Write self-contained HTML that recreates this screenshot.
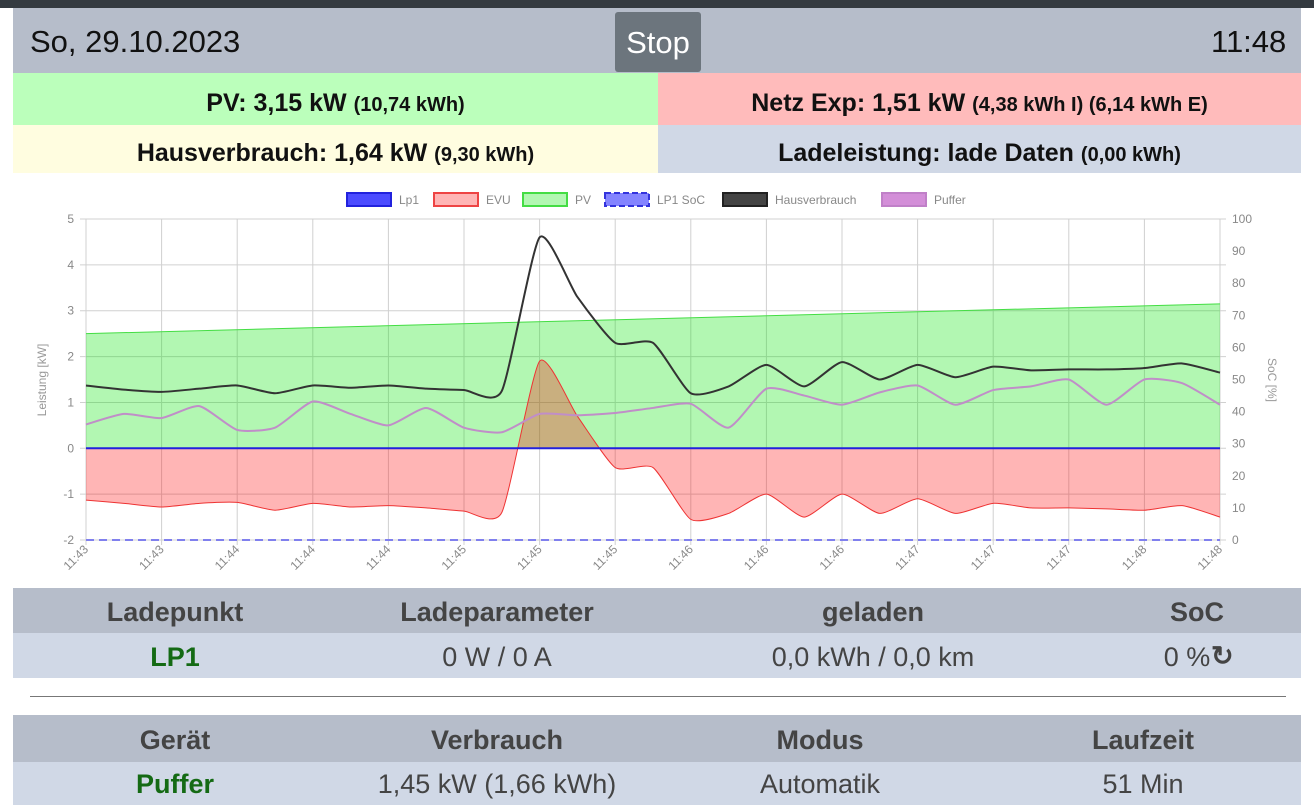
<!DOCTYPE html>
<html><head><meta charset="utf-8"><style>
body{margin:0;width:1314px;height:812px;overflow:hidden;background:#fff;font-family:"Liberation Sans",sans-serif;position:relative}
.a{position:absolute}
.c{text-align:center}
.b{font-weight:bold}
</style></head><body>
<div class="a" style="left:0;top:0;width:1314px;height:8px;background:#343a40"></div>
<div class="a" style="left:13px;top:8px;width:1288px;height:65px;background:#b6bdca"></div>
<div class="a" style="left:30px;top:24px;font-size:31px;color:#111">So, 29.10.2023</div>
<div class="a c" style="left:615px;top:12px;width:86px;height:60px;background:#6c757d;border-radius:3px;color:#fff;font-size:31px;line-height:62px">Stop</div>
<div class="a" style="left:1211px;top:24px;font-size:31px;color:#111">11:48</div>
<div class="a c b" style="left:13px;top:73px;width:645px;height:52px;background:#bbffbb;font-size:25px;line-height:60px;color:#111">PV: 3,15 kW <span style="font-size:20px">(10,74 kWh)</span></div>
<div class="a c b" style="left:658px;top:73px;width:643px;height:52px;background:#ffbbbb;font-size:25px;line-height:60px;color:#111">Netz Exp: 1,51 kW <span style="font-size:20px">(4,38 kWh I) (6,14 kWh E)</span></div>
<div class="a c b" style="left:13px;top:125px;width:645px;height:48px;background:#fffde0;font-size:25px;line-height:56px;color:#111">Hausverbrauch: 1,64 kW <span style="font-size:20px">(9,30 kWh)</span></div>
<div class="a c b" style="left:658px;top:125px;width:643px;height:48px;background:#d0d8e6;font-size:25px;line-height:56px;color:#111">Ladeleistung: lade Daten <span style="font-size:20px">(0,00 kWh)</span></div>

<svg class="a" style="left:0;top:180px" width="1314" height="405" id="ch"></svg>

<div class="a" style="left:13px;top:588px;width:1288px;height:45px;background:#b6bdca"></div>
<div class="a" style="left:13px;top:633px;width:1288px;height:45px;background:#d0d8e6"></div>
<div class="a" style="left:30px;top:696px;width:1256px;height:1px;background:#777"></div>
<div class="a" style="left:13px;top:715px;width:1288px;height:47px;background:#b6bdca"></div>
<div class="a" style="left:13px;top:762px;width:1288px;height:43px;background:#d0d8e6"></div>
<div id="t"></div>
<script>
var T=[
[175,612,"Ladepunkt",1,"#444"],[497,612,"Ladeparameter",1,"#444"],[873,612,"geladen",1,"#444"],[1197,612,"SoC",1,"#444"],
[175,657,"LP1",1,"#146a14"],[497,657,"0 W / 0 A",0,"#444"],[873,657,"0,0 kWh / 0,0 km",0,"#444"],[1187,657,"0 % ",0,"#444"],
[175,740,"Gerät",1,"#444"],[497,740,"Verbrauch",1,"#444"],[820,740,"Modus",1,"#444"],[1143,740,"Laufzeit",1,"#444"],
[175,784,"Puffer",1,"#146a14"],[497,784,"1,45 kW (1,66 kWh)",0,"#444"],[820,784,"Automatik",0,"#444"],[1143,784,"51 Min",0,"#444"]];
var h="";T.forEach(function(t){h+='<div class="a c" style="left:'+(t[0]-200)+'px;top:'+(t[1]-16)+'px;width:400px;font-size:27px;line-height:32px;color:'+t[4]+';font-weight:'+(t[3]?'bold':'normal')+'">'+t[2]+'</div>'});
h+='<div class="a b" style="left:1211px;top:641px;font-size:27px;color:#444">&#8635;</div>';
document.getElementById("t").innerHTML=h;
var x0=86,x1=1220,N=30,dx=(x1-x0)/N;
function Y(v){return 448.3-v*45.86-180}
function X(i){return x0+i*dx}
var H=[1.37,1.28,1.23,1.3,1.37,1.2,1.37,1.32,1.37,1.3,1.27,1.25,4.6,3.3,2.3,2.3,1.2,1.35,1.82,1.35,1.88,1.5,1.82,1.55,1.78,1.7,1.72,1.72,1.75,1.85,1.65];
var E=[-1.13,-1.2,-1.28,-1.2,-1.18,-1.35,-1.2,-1.28,-1.25,-1.3,-1.37,-1.4,1.9,0.7,-0.42,-0.42,-1.55,-1.42,-1.0,-1.5,-1.0,-1.42,-1.1,-1.42,-1.2,-1.3,-1.3,-1.32,-1.35,-1.25,-1.5];
var P=[0.52,0.75,0.66,0.92,0.4,0.45,1.02,0.75,0.5,0.88,0.45,0.35,0.75,0.72,0.77,0.88,0.97,0.45,1.3,1.15,0.95,1.22,1.37,0.95,1.27,1.35,1.5,0.95,1.5,1.42,0.95];
function path(a){var p=a.map(function(v,i){return[X(i),Y(v)]});var s="M"+p[0][0]+","+p[0][1];var t=0.1;
for(var i=0;i<p.length-1;i++){var a0=p[i-1]||p[i],a1=p[i],a2=p[i+1],a3=p[i+2]||a2;
s+=" C"+(a1[0]+(a2[0]-a0[0])*t)+","+(a1[1]+(a2[1]-a0[1])*t)+" "+(a2[0]-(a3[0]-a1[0])*t)+","+(a2[1]-(a3[1]-a1[1])*t)+" "+a2[0]+","+a2[1];}return s}
var s='';
for(var i=0;i<=15;i++){var x=x0+i*75.6;s+='<line x1="'+x+'" y1="39" x2="'+x+'" y2="365" stroke="#d0d0d0"/>';
s+='<text transform="translate('+(x+3)+',370) rotate(-45)" text-anchor="end" font-size="12" fill="#888">'+["11:43","11:43","11:44","11:44","11:44","11:45","11:45","11:45","11:46","11:46","11:46","11:47","11:47","11:47","11:48","11:48"][i]+'</text>';}
for(var v=-2;v<=5;v++){var y=Y(v);s+='<line x1="80" y1="'+y+'" x2="1226" y2="'+y+'" stroke="#d0d0d0"/><text x="74" y="'+(y+4)+'" text-anchor="end" font-size="12" fill="#888">'+v+'</text>';}
for(var k=0;k<=10;k++){var y=Y(-2)-k*32.1;s+='<text x="1232" y="'+(y+4)+'" font-size="12" fill="#888">'+k*10+'</text>';}
s+='<text transform="translate(46,200) rotate(-90)" text-anchor="middle" font-size="12" fill="#999">Leistung [kW]</text>';
s+='<text transform="translate(1268,200) rotate(90)" text-anchor="middle" font-size="12" fill="#999">SoC [%]</text>';
var z=Y(0);
s+='<polygon points="'+x0+','+z+' '+x0+','+Y(2.5)+' '+x1+','+Y(3.15)+' '+x1+','+z+'" fill="rgba(0,230,0,0.3)"/>';
s+='<line x1="'+x0+'" y1="'+Y(2.5)+'" x2="'+x1+'" y2="'+Y(3.15)+'" stroke="#4d4" stroke-width="1"/>';
var pe=path(E);
s+='<path d="'+pe+' L'+x1+','+z+' L'+x0+','+z+'Z" fill="rgba(255,10,10,0.3)"/>';
s+='<path d="'+pe+'" fill="none" stroke="#e33" stroke-width="1"/>';
s+='<line x1="'+x0+'" y1="'+z+'" x2="'+x1+'" y2="'+z+'" stroke="#2222dd" stroke-width="2"/>';
s+='<line x1="'+x0+'" y1="'+Y(-2)+'" x2="'+x1+'" y2="'+Y(-2)+'" stroke="#8080ee" stroke-width="2" stroke-dasharray="8,5"/>';
s+='<path d="'+path(P)+'" fill="none" stroke="#c08ec8" stroke-width="2"/>';
s+='<path d="'+path(H)+'" fill="none" stroke="#333" stroke-width="2"/>';
var L=[[346,"Lp1","rgba(0,0,255,0.7)","#22d",0],[433,"EVU","rgba(255,10,10,0.3)","#e44",0],[522,"PV","rgba(0,230,0,0.3)","#4d4",0],[604,"LP1 SoC","rgba(80,80,255,0.7)","#33d",1],[722,"Hausverbrauch","#444","#222",0],[881,"Puffer","#d38ed8","#c080c8",0]];
L.forEach(function(l){s+='<rect x="'+(l[0]+1)+'" y="13" width="44" height="13" fill="'+l[2]+'" stroke="'+l[3]+'" stroke-width="2"'+(l[4]?' stroke-dasharray="6,3"':'')+'/><text x="'+(l[0]+53)+'" y="24" font-size="12" fill="#888">'+l[1]+'</text>'});
document.getElementById("ch").innerHTML=s;
</script>
</body></html>
